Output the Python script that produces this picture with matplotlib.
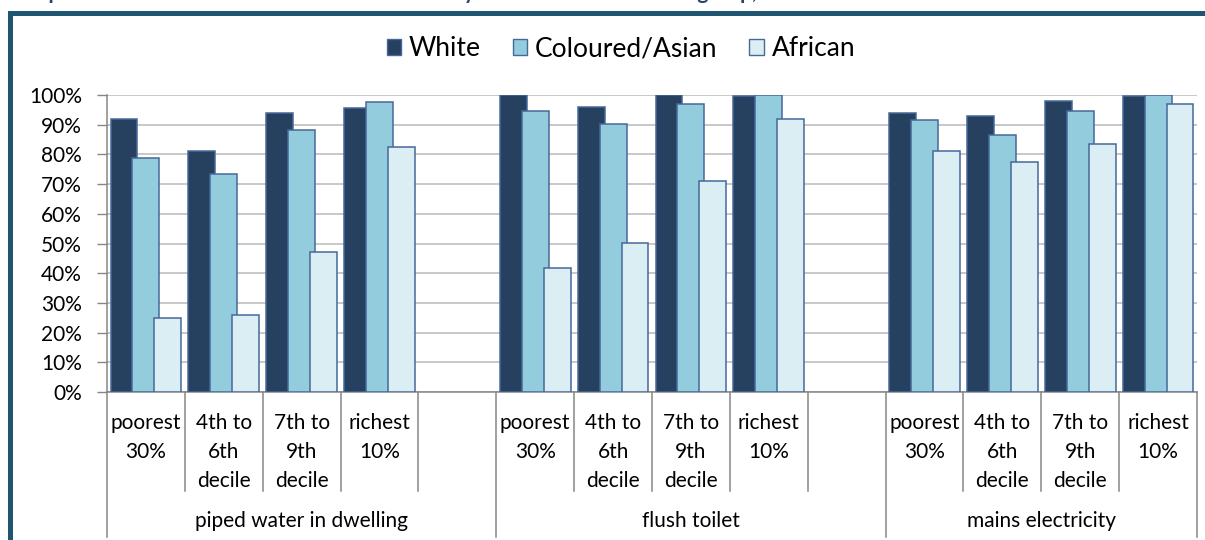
import matplotlib
matplotlib.use("Agg")
import matplotlib.pyplot as plt
import matplotlib.transforms as mtransforms
from matplotlib.patches import Patch, Rectangle
import numpy as np

plt.rcParams["font.family"] = ["Lato", "DejaVu Sans"]

# Data (share of households, %)
services = ["piped water in dwelling", "flush toilet", "mains electricity"]
income_groups = ["poorest\n30%", "4th to\n6th\ndecile", "7th to\n9th\ndecile", "richest\n10%"]
series_names = ["White", "Coloured/Asian", "African"]

white = [91.9, 81.1, 93.8, 95.5,
         100.0, 95.8, 100.0, 99.7,
         93.9, 92.9, 98.0, 99.6]
coloured_asian = [78.9, 73.5, 88.2, 97.5,
                  94.7, 90.3, 96.9, 99.9,
                  91.5, 86.6, 94.5, 99.9]
african = [24.9, 25.8, 47.2, 82.5,
           41.6, 50.1, 71.1, 91.8,
           81.2, 77.4, 83.6, 97.0]

title = "Graph 4: Access to household services in 2008 by income decile and race group, 2008"

colors = ["#26405F", "#93CDDD", "#DBEEF4"]
edge = "#46689A"

# one empty slot after each service block except the last
slots_per_block = len(income_groups) + 1
n_slots = slots_per_block * len(services) - 1
x = np.array([g * slots_per_block + k
              for g in range(len(services)) for k in range(len(income_groups))])

fig = plt.figure(figsize=(12.05, 5.40), dpi=100)
W, H = 1205.0, 540.0
ax = fig.add_axes([107 / W, 1 - 392 / H, 1090 / W, 297 / H])

width = 0.346
step = 0.282
for i, (vals, c) in enumerate(zip([white, coloured_asian, african], colors)):
    ax.bar(x + (i - 1) * step, np.array(vals) / 100.0, width=width, color=c,
           edgecolor=edge, linewidth=1.1, zorder=3 + i)

ax.set_xlim(-0.5, n_slots - 0.5)
ax.set_ylim(0, 1.0)
ax.set_yticks(np.arange(0, 1.01, 0.1))
ax.set_yticklabels([f"{int(round(v * 100))}%" for v in np.arange(0, 1.01, 0.1)],
                   fontsize=15, color="#000000")
ax.tick_params(axis="y", length=7, width=1, color="#868686", pad=11)
ax.tick_params(axis="x", length=0, labelbottom=False)
ax.yaxis.grid(True, color="#C4C4C4", linewidth=1.3, zorder=0)
ax.set_axisbelow(True)
for s in ["top", "right"]:
    ax.spines[s].set_visible(False)
for s in ["left", "bottom"]:
    ax.spines[s].set_color("#868686")
    ax.spines[s].set_linewidth(1.1)

# category / group labels and divider lines below the axis
trans = mtransforms.blended_transform_factory(ax.transData, ax.transAxes)
short_y = -99 / 297
long_y = -145 / 297
for b in range(n_slots + 1):
    xb = b - 0.5
    is_group = (b % slots_per_block == 0) or b == n_slots
    y_end = long_y if is_group else short_y
    ax.plot([xb, xb], [0, y_end], transform=trans, color="#868686",
            linewidth=1.1, clip_on=False)

for xi, lab in zip(x, income_groups * len(services)):
    ax.text(xi, -21 / 297, lab, transform=trans, ha="center", va="top",
            fontsize=15, linespacing=1.56)

for g, name in enumerate(services):
    start = g * slots_per_block - 0.5
    end = min(start + slots_per_block, n_slots - 0.5)
    ax.text((start + end) / 2, -129 / 297, name, transform=trans,
            ha="center", va="center", fontsize=15)

# legend
handles = [Patch(facecolor=c, edgecolor=edge, linewidth=1.0) for c in colors]
fig.legend(handles, series_names, loc="center", bbox_to_anchor=(621 / W, 1 - 49 / H),
           ncol=3, frameon=False, fontsize=19, handlelength=0.55, handleheight=0.55,
           handletextpad=0.3, columnspacing=1.2)

# outer frame (extends past the cropped right/bottom edges)
fig.patches.append(Rectangle((10 / W, -0.1), 1.2, 1 - 12.5 / H + 0.1,
                             transform=fig.transFigure, fill=False,
                             edgecolor="#1F5570", linewidth=3.6))

# title, mostly cropped off above the figure
fig.text(15 / W, 1 + 1 / H, title, ha="left", va="baseline", fontsize=15,
         fontweight="bold", color="#2B4466")

fig.savefig("out.png", dpi=100)
